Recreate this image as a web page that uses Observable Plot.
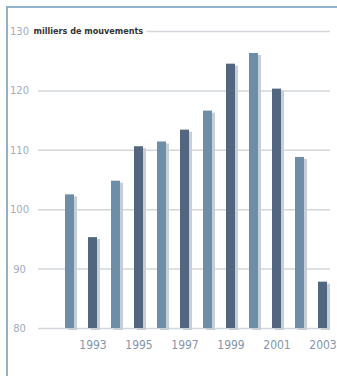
<!DOCTYPE html>
<html><head><meta charset="utf-8">
<script src="https://cdn.jsdelivr.net/npm/d3@7"></script>
<script src="https://cdn.jsdelivr.net/npm/@observablehq/plot@0.6"></script>
<style>
html,body{margin:0;padding:0;background:#fff;}
#wrap{position:relative;width:337px;height:376px;overflow:hidden;}
#frame{position:absolute;left:6px;top:6px;right:-2px;bottom:-2px;border-top:2px solid #8fb2ca;border-left:2px solid #8fb2ca;pointer-events:none;}
#wrap svg{position:absolute;left:0;top:0;}
#wrap svg text{font-stretch:condensed;}
</style>
</head><body>
<div id="wrap"><div id="frame"></div></div>
<script>
const years = [1992,1993,1994,1995,1996,1997,1998,1999,2000,2001,2002,2003];
const values = [102.5,95.3,104.8,110.6,111.4,113.4,116.6,124.5,126.3,120.3,108.8,87.8];
const yTicks = [80,90,100,110,120,130];
const xTickLabels = [1993,1995,1997,1999,2001,2003];
const unitLabel = "milliers de mouvements";

const data = years.map((year, i) => ({year, value: values[i], i}));
const font = "'DejaVu Sans Condensed','DejaVu Sans',sans-serif";

const chart = Plot.plot({
  width: 337, height: 376,
  marginLeft: 38, marginRight: 7, marginTop: 31, marginBottom: 48,
  style: {fontFamily: font, background: "transparent"},
  x: {type: "band", domain: years, paddingInner: 0.6, paddingOuter: 0.593, align: 0.89, label: null},
  y: {domain: [80, 130], label: null},
  marks: [
    Plot.ruleY(yTicks, {stroke: "#d3d7db", strokeWidth: 1.5}),
    Plot.barY(data, {x: "year", y1: 80, y2: "value", fill: "#c6cfd8", dx: 3, dy: 2}),
    Plot.barY(data, {x: "year", y1: 80, y2: "value", fill: d => d.i % 2 === 0 ? "#6e8da7" : "#52667f"}),
    Plot.axisY(yTicks, {tickSize: 0, tickPadding: 19, textAnchor: "middle", fill: "#9fadbd", fontSize: 11, fontFamily: font}),
    Plot.axisX(xTickLabels, {tickSize: 0, tickPadding: 12, tickFormat: d => String(d), fill: "#8496aa", fontSize: 12, fontFamily: font}),
    Plot.text([unitLabel], {y: () => 130, text: d => d, frameAnchor: "left", dx: -5, textAnchor: "start", fontWeight: "bold", fill: "#333", fontSize: 9, fontFamily: font, stroke: "white", strokeWidth: 8})
  ]
});
document.getElementById("wrap").prepend(chart);
</script>
</body></html>
